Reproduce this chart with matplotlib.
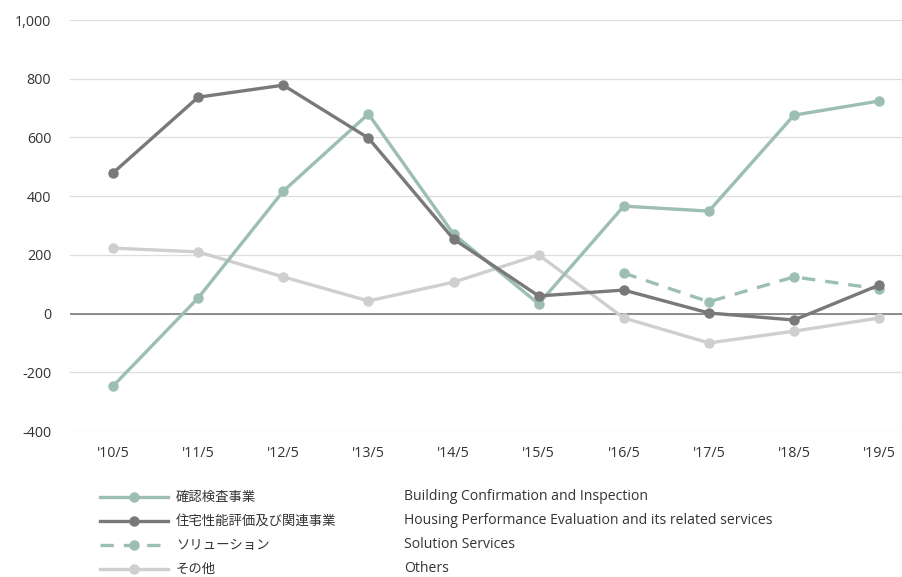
import matplotlib
matplotlib.use("Agg")
import matplotlib.pyplot as plt
from matplotlib.lines import Line2D

plt.rcParams['font.family'] = ['Open Sans', 'Noto Sans CJK JP', 'DejaVu Sans']

# data
years = ["'10/5", "'11/5", "'12/5", "'13/5", "'14/5", "'15/5", "'16/5", "'17/5", "'18/5", "'19/5"]
confirmation = [-247, 53, 417, 680, 271, 33, 366, 349, 676, 724]
housing = [479, 737, 778, 598, 254, 60, 80, 2, -22, 97]
solution_years = years[6:]
solution = [138, 40, 125, 84]
others = [223, 210, 125, 43, 107, 200, -15, -100, -60, -15]

labels_jp = ['確認検査事業', '住宅性能評価及び関連事業', 'ソリューション', 'その他']
labels_en = ['Building Confirmation and Inspection',
             'Housing Performance Evaluation and its related services',
             'Solution Services', 'Others']

c_green = '#9cbeb4'
c_dark = '#797979'
c_light = '#cfcfcf'
W, H = 903, 577

fig = plt.figure(figsize=(W / 100, H / 100), dpi=100)
ax = fig.add_axes([70 / W, 1 - 431 / H, 1 - 70 / W, 411 / H])

x = list(range(len(years)))
xs = list(range(6, 10))
lw, ms = 2.4, 6.5
ax.plot(x, others, color=c_light, lw=lw, marker='o', ms=ms, zorder=3)
ax.plot(x, confirmation, color=c_green, lw=lw, marker='o', ms=ms, zorder=4)
ax.plot(xs, solution, color=c_green, lw=lw, marker='o', ms=ms, ls=(0, (4, 3)), zorder=4)
ax.plot(x, housing, color=c_dark, lw=lw, marker='o', ms=ms, zorder=5)

ax.set_ylim(-400, 1000)
ax.set_xlim(-0.505, 9.28)
ax.set_yticks(range(-400, 1001, 200))
ax.set_yticklabels([f'{v:,}' for v in range(-400, 1001, 200)])
ax.set_xticks(x)
ax.set_xticklabels(years)
ax.grid(axis='y', color='#dedede', lw=0.9)
ax.axhline(0, color='#858585', lw=1.3, zorder=2)
ax.set_axisbelow(True)
for s in ax.spines.values():
    s.set_visible(False)
ax.tick_params(length=0, labelsize=10.3, colors='#333333')
ax.tick_params(axis='y', pad=13.5)
ax.tick_params(axis='x', pad=11)

# legend drawn in pixel coordinates
lg = fig.add_axes([0, 0, 1, 1], facecolor='none')
lg.set_xlim(0, W)
lg.set_ylim(H, 0)
lg.axis('off')
rows = [497, 521, 545, 569]
styles = [(c_green, '-'), (c_dark, '-'), (c_green, (0, (4, 3))), (c_light, '-')]
for yy, (col, ls), jp, en in zip(rows, styles, labels_jp, labels_en):
    lg.add_line(Line2D([100, 168], [yy, yy], color=col, lw=lw, ls=ls))
    lg.plot([134], [yy], marker='o', color=col, ms=ms)
    lg.text(176, yy, jp, va='center', ha='left', fontsize=9.6, color='#333333')
    lg.text(404, yy, en, va='center', ha='left', fontsize=10.1, color='#333333')

fig.savefig('out.png', dpi=100)
